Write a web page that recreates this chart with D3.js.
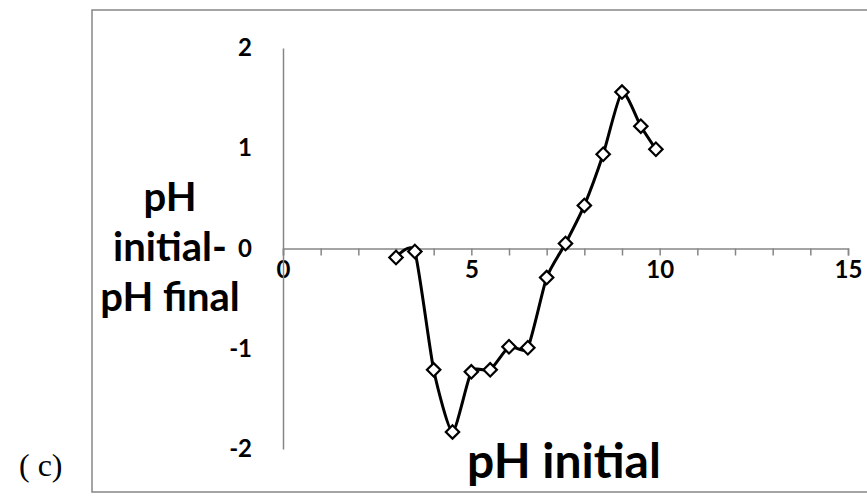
<!DOCTYPE html>
<html>
<head>
<meta charset="utf-8">
<script src="https://cdn.jsdelivr.net/npm/d3@7"></script>
<style>
  body { margin: 0; background: #fff; }
  svg { display: block; }
  .tick text { font-family: Lato, "Open Sans", sans-serif; font-weight: bold; fill: #000; }
</style>
</head>
<body>
<script>
// pH initial (x) vs pH initial - pH final (y)
const phInitial = [3, 3.5, 4, 4.5, 5, 5.5, 6, 6.5, 7, 7.5, 8, 8.5, 9, 9.5, 9.9];
const phDiff = [-0.09, -0.03, -1.21, -1.83, -1.23, -1.21, -0.98, -0.99, -0.29, 0.05, 0.43, 0.94, 1.56, 1.22, 0.99];
const xLabels = [0, 5, 10, 15];
const yLabels = [-2, -1, 0, 1, 2];

const width = 867;
const height = 502;
const axisColor = '#868686';
const font = 'Lato, "Open Sans", sans-serif';

const svg = d3.select('body').append('svg')
  .attr('width', width)
  .attr('height', height);

// chart border
svg.append('rect')
  .attr('x', 92)
  .attr('y', 10)
  .attr('width', 790)
  .attr('height', 482)
  .attr('fill', 'none')
  .attr('stroke', axisColor)
  .attr('stroke-width', 1.5);

const x = d3.scaleLinear().domain([0, 15]).range([283, 848]);
const y = d3.scaleLinear().domain([-2, 2]).range([449, 48]);

// x axis: line + minor ticks at every unit
const xAxisG = svg.append('g')
  .attr('transform', `translate(0, ${y(0)})`)
  .call(d3.axisBottom(x).tickValues(d3.range(0, 16)).tickSize(7).tickFormat(''));
xAxisG.selectAll('path, line').attr('stroke', axisColor).attr('stroke-width', 1.5);

// x labels
const xLabG = svg.append('g')
  .attr('transform', `translate(0, ${y(0)})`)
  .call(d3.axisBottom(x).tickValues(xLabels).tickSize(0).tickPadding(12).tickFormat(d => String(d)));
xLabG.select('.domain').remove();
xLabG.selectAll('text').style('font-size', '24px');

// y axis (plain hyphen for negatives, like the original)
const yAxisG = svg.append('g')
  .attr('transform', `translate(${x(0)}, 0)`)
  .call(d3.axisLeft(y).tickValues(yLabels).tickSize(0).tickPadding(31).tickFormat(d => String(d)));
yAxisG.select('.domain').attr('stroke', axisColor).attr('stroke-width', 1.5);
yAxisG.selectAll('text').style('font-size', '24px');

// smoothed line
const line = d3.line()
  .x((d, i) => x(phInitial[i]))
  .y(d => y(d))
  .curve(d3.curveCardinal.tension(0.4));

svg.append('path')
  .datum(phDiff)
  .attr('d', line)
  .attr('fill', 'none')
  .attr('stroke', '#000')
  .attr('stroke-width', 3);

// diamond markers
const diamond = d3.symbol().type(d3.symbolSquare).size(90);
svg.selectAll('.marker')
  .data(phDiff)
  .enter().append('path')
  .attr('class', 'marker')
  .attr('d', diamond)
  .attr('transform', (d, i) => `translate(${x(phInitial[i])}, ${y(d)}) rotate(45)`)
  .attr('fill', '#fff')
  .attr('stroke', '#000')
  .attr('stroke-width', 2.2);

// axis titles
svg.append('text')
  .attr('x', 564)
  .attr('y', 478)
  .attr('text-anchor', 'middle')
  .style('font-family', font)
  .style('font-weight', 'bold')
  .style('font-size', '48px')
  .text('pH initial');

const yTitle = ['pH', 'initial-', 'pH final'];
svg.append('g').selectAll('text')
  .data(yTitle)
  .enter().append('text')
  .attr('x', 170)
  .attr('y', (d, i) => 211 + i * 50)
  .attr('text-anchor', 'middle')
  .style('font-family', font)
  .style('font-weight', 'bold')
  .style('font-size', '40px')
  .text(d => d);

// panel label
svg.append('text')
  .attr('x', 19)
  .attr('y', 476)
  .style('font-family', '"Liberation Serif", "DejaVu Serif", serif')
  .style('font-size', '32px')
  .text('( c)');
</script>
</body>
</html>
